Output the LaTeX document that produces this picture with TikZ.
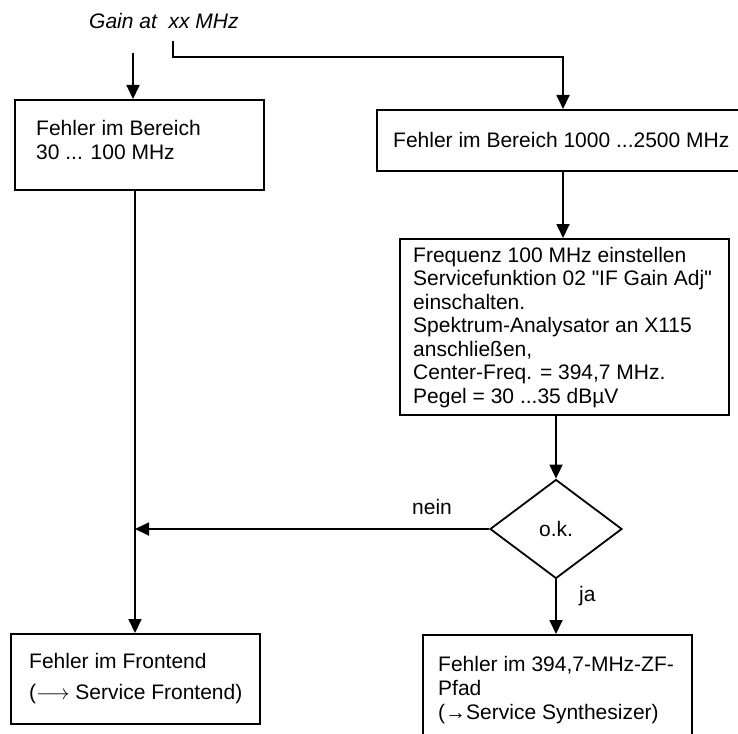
\documentclass[tikz,border=0pt]{standalone}
\usepackage{fontspec}
\setmainfont{Liberation Sans}[Ligatures=TeXOff]
\usetikzlibrary{arrows.meta,shapes.geometric}
\begin{document}
\begin{tikzpicture}[x=1pt,y=-1pt,
  box/.style={draw, line width=1.8pt, rectangle, inner sep=0pt, anchor=north west},
  txt/.style={anchor=base west, inner sep=0pt, align=left, font=\fontsize{21}{24}\selectfont},
  con/.style={line width=1.8pt},
  arr/.style={con, -{Triangle[length=14pt,width=13pt]}},
  lbl/.style={inner sep=0pt, anchor=base west, font=\fontsize{21}{24}\selectfont}]
\useasboundingbox (0,0) rectangle (738,733);
\clip (0,0) rectangle (738,733);

\node[lbl, font=\itshape\fontsize{21}{24}\selectfont] (gain) at (89,29) {Gain at\ \ xx MHz};

\node[box, minimum width=249pt, minimum height=90pt] (b1) at (14,99) {};
\node[box, minimum width=380pt, minimum height=61pt] (b2) at (376,109) {};
\node[box, minimum width=329pt, minimum height=176pt] (b3) at (399,238) {};
\node[draw, line width=1.8pt, diamond, inner sep=0pt, aspect=1.33, minimum width=132pt, minimum height=99pt,
      font=\fontsize{21}{24}\selectfont] (dia) at (556,529) {o.k.};
\node[box, minimum width=249pt, minimum height=90pt] (b4) at (10,633) {};
\node[box, minimum width=269pt, minimum height=130pt] (b5) at (422,634) {};

% multi-line texts: anchored at the baseline of their last line
\node[txt] (t1) at (36,159) {Fehler im Bereich\\30 ... 100 MHz};
\node[txt] (t2) at (393,147) {Fehler im Bereich 1000 ...2500 MHz};
\node[txt, font=\fontsize{21}{23.5}\selectfont] (t3) at (413,403) {Frequenz 100 MHz einstellen\\Servicefunktion 02 "IF Gain Adj"\\einschalten.\\Spektrum-Analysator an X115\\anschließen,\\Center-Freq. = 394,7 MHz.\\Pegel = 30 ...35 dBµV};
\node[txt, font=\fontsize{21}{31}\selectfont] (t4) at (29,699) {Fehler im Frontend\\($\longrightarrow$ Service Frontend)};
\node[txt] (t5) at (438,719) {Fehler im 394,7-MHz-ZF-\\Pfad\\(→Service Synthesizer)};

\coordinate (s1) at (133,53);
\coordinate (s2) at (173,41);
\coordinate (k) at (563,57);
\coordinate (col) at (135,0);

\draw[arr] (s1) -- (s1 |- b1.north);
\draw[arr] (s2) |- (k) -- (k |- b2.north);
\draw[arr] (b2.south -| k) -- (b3.north -| k);
\draw[arr] (b3.south -| dia.north) -- (dia.north);
\draw[arr] (dia.south) -- (dia.south |- b5.north);
\draw[arr] (b1.south -| col) -- (b4.north -| col);
\draw[arr] (dia.west) -- (dia.west -| col);

\node[lbl] (nein) at (412,514) {nein};
\node[lbl] (ja) at (579,601) {ja};
\end{tikzpicture}
\end{document}
